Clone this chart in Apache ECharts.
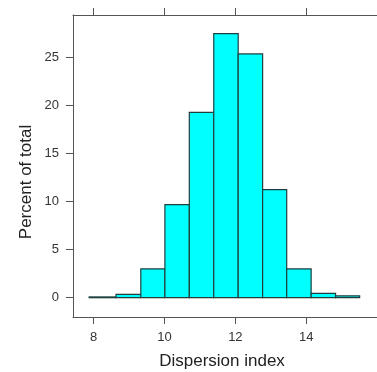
<!DOCTYPE html>
<html>
<head>
<meta charset="utf-8">
<script src="https://cdn.jsdelivr.net/npm/echarts@6/dist/echarts.min.js"></script>
<style>
html,body{margin:0;padding:0;background:#fff;}
#c{width:377px;height:372px;}
</style>
</head>
<body>
<div id="c"></div>
<script>
// Histogram bins (left edge, right edge) and percent of total
const binStarts = [7.87, 8.63, 9.33, 10.01, 10.70, 11.39, 12.08, 12.77, 13.45, 14.14, 14.83];
const binEnds   = [8.63, 9.33, 10.01, 10.70, 11.39, 12.08, 12.77, 13.45, 14.14, 14.83, 15.51];
const percents  = [0.08, 0.35, 3.0, 9.7, 19.3, 27.5, 25.4, 11.25, 3.0, 0.45, 0.2];
const xTicks = [8, 10, 12, 14];
const yTicks = [0, 5, 10, 15, 20, 25];
const xTitle = 'Dispersion index';
const yTitle = 'Percent of total';

const data = binStarts.map((s, i) => [s, binEnds[i], percents[i]]);
const axisColor = '#555';
const font = 'Liberation Sans, Arial, sans-serif';

const chart = echarts.init(document.getElementById('c'), null, {renderer: 'canvas'});
chart.setOption({
  animation: false,
  backgroundColor: '#fff',
  grid: {left: 73, top: 15, width: 309, height: 302, containLabel: false},
  xAxis: [{
    type: 'value', min: 7.415, max: 16, position: 'bottom',
    axisLine: {show: true, onZero: false, lineStyle: {color: axisColor, width: 1}},
    axisTick: {show: true, inside: false, length: 7, customValues: xTicks, lineStyle: {color: axisColor}},
    axisLabel: {show: true, customValues: xTicks, margin: 14, color: '#333', fontSize: 13, fontFamily: font},
    splitLine: {show: false}
  }, {
    type: 'value', min: 7.415, max: 16, position: 'top',
    axisLine: {show: true, onZero: false, lineStyle: {color: axisColor, width: 1}},
    axisTick: {show: true, inside: false, length: 7, customValues: xTicks, lineStyle: {color: axisColor}},
    axisLabel: {show: false},
    splitLine: {show: false}
  }],
  yAxis: [{
    type: 'value', min: -2.01, max: 29.45, position: 'left',
    axisLine: {show: true, onZero: false, lineStyle: {color: axisColor, width: 1}},
    axisTick: {show: true, inside: false, length: 7, customValues: yTicks, lineStyle: {color: axisColor}},
    axisLabel: {show: true, customValues: yTicks, margin: 14, color: '#333', fontSize: 13, fontFamily: font},
    splitLine: {show: false}
  }, {
    type: 'value', min: -2.01, max: 29.45, position: 'right',
    axisLine: {show: true, onZero: false, lineStyle: {color: axisColor, width: 1}},
    axisTick: {show: false}, axisLabel: {show: false}, splitLine: {show: false}
  }],
  graphic: [
    {type: 'text', x: 222, y: 361, style: {text: xTitle, fill: '#222', font: '17px ' + font, align: 'center', verticalAlign: 'middle'}},
    {type: 'text', x: 26, y: 182, rotation: Math.PI / 2, style: {text: yTitle, fill: '#222', font: '17px ' + font, align: 'center', verticalAlign: 'middle'}}
  ],
  series: [{
    type: 'custom',
    xAxisIndex: 0, yAxisIndex: 0,
    data: data,
    encode: {x: [0, 1], y: 2},
    renderItem: function (params, api) {
      const p0 = api.coord([api.value(0), 0]);
      const p1 = api.coord([api.value(1), api.value(2)]);
      return {
        type: 'rect',
        shape: {x: p0[0], y: p1[1], width: p1[0] - p0[0], height: p0[1] - p1[1]},
        style: {fill: '#00FFFF', stroke: '#1f3f3f', lineWidth: 1.2}
      };
    }
  }]
});
</script>
</body>
</html>
